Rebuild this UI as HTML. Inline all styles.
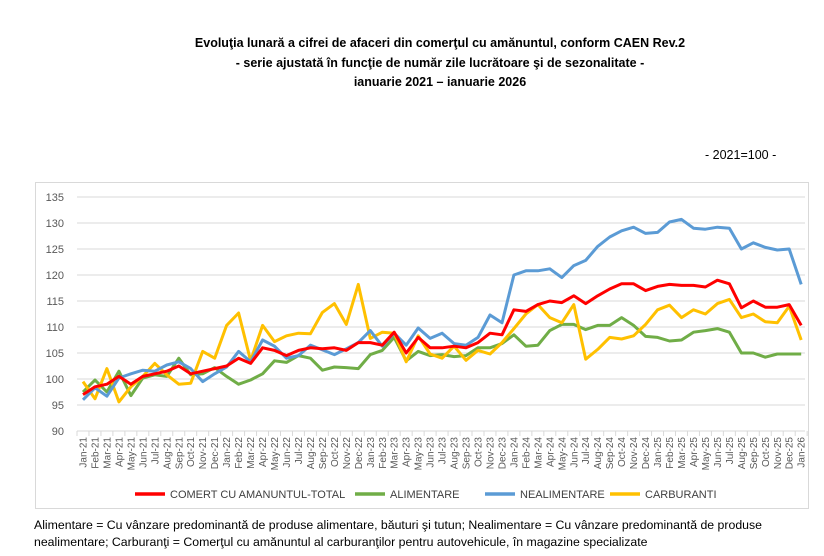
<!DOCTYPE html>
<html><head><meta charset="utf-8"><style>
body{margin:0;width:824px;height:556px;background:#fff;font-family:"Liberation Sans",sans-serif;overflow:hidden;position:relative}
.t{position:absolute;left:0;width:880px;text-align:center;font-weight:bold;font-size:12.5px;color:#000}
.f{position:absolute;left:34px;font-size:12.3px;color:#000}
</style></head><body>
<div class="t" style="top:36px">Evoluţia lunară a cifrei de afaceri din comerţul cu amănuntul, conform CAEN Rev.2</div>
<div class="t" style="top:56px">- serie ajustată în funcţie de număr zile lucrătoare şi de sezonalitate -</div>
<div class="t" style="top:75px">ianuarie 2021 – ianuarie 2026</div>
<div style="position:absolute;left:705px;top:148px;font-size:12.5px">- 2021=100 -</div>
<svg id="c" width="824" height="556" style="position:absolute;left:0;top:0"></svg>
<div class="f" style="top:518px">Alimentare = Cu vânzare predominantă de produse alimentare, băuturi şi tutun; Nealimentare = Cu vânzare predominantă de produse</div>
<div class="f" style="top:535px">nealimentare; Carburanţi = Comerţul cu amănuntul al carburanţilor pentru autovehicule, în magazine specializate</div>
<script>
var R=[97,98.5,99,100.5,99,100.5,101,101.5,102.5,101,101.5,102,102.5,104,103,106,105.5,104.5,105.5,106,105.8,106,105.5,107,107,106.5,109,105,108,106,106,106.3,106,107,108.8,108.5,113.3,113,114.3,115,114.7,116,114.5,116,117.3,118.3,118.3,117,117.8,118.2,118,118,117.7,119,118.3,113.7,115,113.8,113.8,114.3,110.3];
var G=[97.5,99.8,97.5,101.5,96.8,100.2,100.8,100.5,104,100.8,101,102.2,100.5,99,99.8,101,103.5,103.2,104.5,104,101.7,102.3,102.2,102,104.7,105.5,108,103.5,105.3,104.5,104.7,104.3,104.5,106,106,106.8,108.5,106.3,106.5,109.3,110.5,110.5,109.5,110.3,110.3,111.8,110.3,108.2,108,107.3,107.5,109,109.3,109.7,109,105,105,104.2,104.8,104.8,104.8];
var B=[96,98.3,96.7,100.2,101,101.7,101.5,102.7,103.3,102,99.5,101,102.3,105.3,103.3,107.5,106.3,104,104.5,106.5,105.6,104.7,105.8,107,109.3,106.3,108.8,106.5,109.8,107.8,108.8,106.8,106.5,108,112.3,110.8,120,120.8,120.8,121.2,119.5,121.8,122.8,125.5,127.3,128.5,129.2,128,128.2,130.2,130.7,129,128.8,129.2,129,125,126.2,125.3,124.8,125,118.2];
var Y=[99.5,96.2,102,95.6,98.5,100.5,103,100.8,99,99.2,105.3,104,110.3,112.7,103.5,110.3,107.2,108.3,108.8,108.7,112.8,114.5,110.5,118.2,107.8,109,108.8,103.3,108.3,104.8,104,106.3,103.6,105.5,104.8,107,109.7,112.5,114.3,111.8,110.8,114.3,103.8,105.7,108,107.7,108.3,110.5,113.3,114.2,111.8,113.3,112.5,114.5,115.3,111.8,112.5,111,110.8,114,107.5];
var M=["Jan","Feb","Mar","Apr","May","Jun","Jul","Aug","Sep","Oct","Nov","Dec"];
function X(i){return 83+i*11.97}function V(v){return 431-(v-90)*5.2}
var s='<rect x="35.5" y="182.5" width="773" height="326" fill="none" stroke="#d9d9d9"/>';
for(var v=90;v<=135;v+=5){s+='<line x1="77" x2="805" y1="'+V(v)+'" y2="'+V(v)+'" stroke="#d9d9d9"/>';s+='<text x="64" y="'+(V(v)+4)+'" font-size="11" fill="#595959" text-anchor="end">'+v+'</text>';}
for(var i=0;i<=61;i++){var xx=77+i*11.97;s+='<line x1="'+xx+'" x2="'+xx+'" y1="431" y2="436" stroke="#d9d9d9"/>';}
for(var i=0;i<61;i++){var lab=M[i%12]+"-"+(21+Math.floor(i/12));s+='<text transform="translate('+(X(i)+3.5)+',437) rotate(-90)" font-size="10" fill="#595959" text-anchor="end">'+lab+'</text>';}
function L(d,c){var p=d.map(function(v,i){return X(i).toFixed(1)+','+V(v).toFixed(1)}).join(' ');return '<polyline points="'+p+'" fill="none" stroke="'+c+'" stroke-width="3" stroke-linejoin="round"/>';}
s+=L(G,'#70ad47')+L(Y,'#ffc000')+L(B,'#5b9bd5')+L(R,'#ff0000');
var lg=[[135,'#ff0000','COMERT CU AMANUNTUL-TOTAL'],[355,'#70ad47','ALIMENTARE'],[485,'#5b9bd5','NEALIMENTARE'],[610,'#ffc000','CARBURANTI']];
lg.forEach(function(a){s+='<line x1="'+a[0]+'" x2="'+(a[0]+30)+'" y1="494" y2="494" stroke="'+a[1]+'" stroke-width="3.5"/><text x="'+(a[0]+35)+'" y="498" font-size="11" fill="#404040">'+a[2]+'</text>';});
document.getElementById('c').innerHTML=s;
</script>
</body></html>
